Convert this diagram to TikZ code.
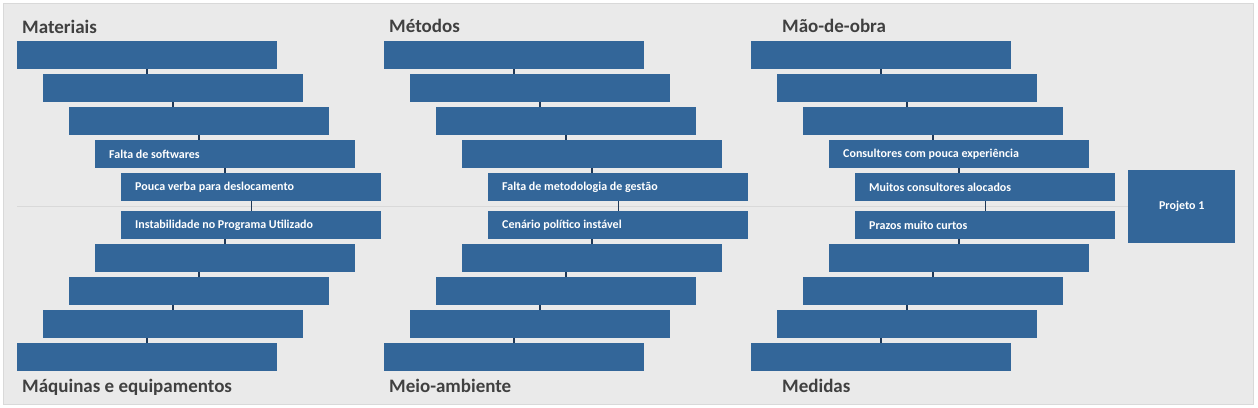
\documentclass[tikz,border=0pt]{standalone}
\usepackage{fontspec}
\setmainfont{Carlito}
\usetikzlibrary{positioning}
\definecolor{boxblue}{RGB}{51,102,153}
\definecolor{linkblue}{RGB}{31,57,88}
\definecolor{panelgray}{RGB}{234,234,234}
\definecolor{framegray}{RGB}{217,217,217}
\definecolor{headgray}{RGB}{64,64,64}

\begin{document}
\begin{tikzpicture}[x=1pt,y=-1pt,
        causebox/.style={rectangle, fill=boxblue, minimum width=260pt,
            minimum height=28pt, inner sep=0pt, anchor=north west},
        causetext/.style={text=white, inner sep=0pt,
            font=\fontsize{12}{14}\selectfont\bfseries},
        head/.style={text=headgray, anchor=base west, inner sep=0pt,
            font=\fontsize{19}{22}\selectfont\bfseries},
        link/.style={draw=linkblue, line width=2.4pt},
        spine/.style={draw=framegray, line width=1pt}]

    \useasboundingbox (0,0) rectangle (1258,407);
    \draw[fill=panelgray, draw=framegray] (3.5,3.5) rectangle (1253.5,404.5);

    % effect and main axis
    \node[causebox, causetext, minimum width=107pt, minimum height=73pt,
          anchor=north west] (proj) at (1128,170) {Projeto 1};
    \coordinate (tail) at (17,206);
    \draw[spine] (tail) -- (proj.west |- tail);

    % the three bones of each side
    \foreach \g/\gx in {mat/17, met/384, mao/751} {
        \foreach \i/\dx/\y in {1/0/41, 2/26/74, 3/52/107, 4/78/140, 5/104/173,
                               6/104/211, 7/78/244, 8/52/277, 9/26/310, 10/0/343}
            \node[causebox] (\g-\i) at (\gx+\dx,\y) {};
        \foreach \i [evaluate=\i as \j using int(\i+1)] in {1,...,4}
            \draw[link] (\g-\i.south) -- (\g-\i.south |- \g-\j.north);
        \foreach \i [evaluate=\i as \j using int(\i+1)] in {6,...,9}
            \draw[link] (\g-\j.north) -- (\g-\j.north |- \g-\i.south);
        \draw[linkblue, line width=1pt] (\g-5.south) -- (\g-6.north);
    }

    % causes
    \node[causetext, right=14pt of mat-4.west] (mat-t4) {Falta de softwares};
    \node[causetext, right=14pt of mat-5.west] (mat-t5) {Pouca verba para deslocamento};
    \node[causetext, right=14pt of mat-6.west] (mat-t6) {Instabilidade no Programa Utilizado};
    \node[causetext, right=14pt of met-5.west] (met-t5) {Falta de metodologia de gestão};
    \node[causetext, right=14pt of met-6.west] (met-t6) {Cenário político instável};
    \node[causetext, right=14pt of mao-4.west] (mao-t4) {Consultores com pouca experiência};
    \node[causetext, right=14pt of mao-5.west] (mao-t5) {Muitos consultores alocados};
    \node[causetext, right=14pt of mao-6.west] (mao-t6) {Prazos muito curtos};

    % category titles
    \node[head] (mat-h) at (22,33) {Materiais};
    \node[head] (mat-f) at (22,392) {Máquinas e equipamentos};
    \node[head] (met-h) at (389,32) {Métodos};
    \node[head] (met-f) at (389,392) {Meio-ambiente};
    \node[head] (mao-h) at (782,32) {Mão-de-obra};
    \node[head] (mao-f) at (782,392) {Medidas};
\end{tikzpicture}
\end{document}
